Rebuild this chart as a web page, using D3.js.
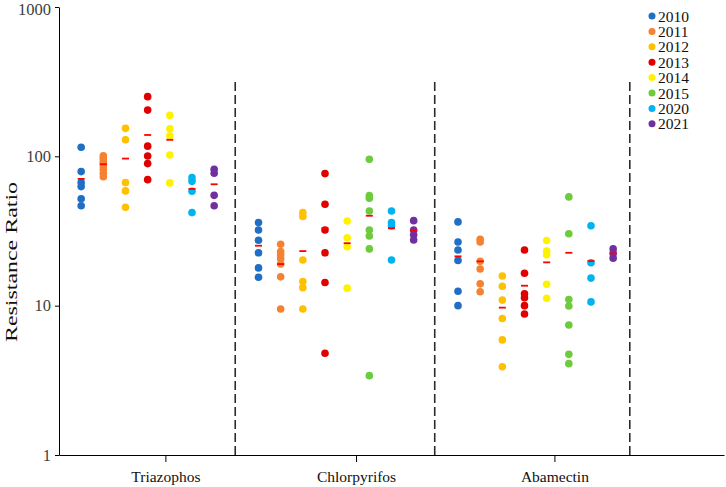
<!DOCTYPE html>
<html>
<head>
<meta charset="utf-8">
<script src="https://cdn.jsdelivr.net/npm/d3@7"></script>
<style>
  body { margin: 0; background: #fff; }
  svg { display: block; }
  .axis path, .axis line { stroke: #000; }
</style>
</head>
<body>
<div id="chart"></div>
<script>
// series (years) and their colours
const years = ["2010", "2011", "2012", "2013", "2014", "2015", "2020", "2021"];
const colors = ["#1f6fc6", "#f58232", "#ffc000", "#e00000", "#fff200", "#6dcb3e", "#00b4f0", "#7030a0"];

const categories = ["Triazophos", "Chlorpyrifos", "Abamectin"];

// resistance ratios per year (null = not tested)
const triazophos = [
    [115, 79, 66.7, 62.7, 52, 46.7],
    [101, 97, 93, 90, 86, 82, 77, 73],
    [154, 129, 66.7, 58.7, 45.6],
    [251, 204, 117, 100.6, 89.4, 69.8],
    [188, 153, 137, 102, 66.4],
    null,
    [72, 68, 58.4, 42],
    [81.9, 77, 54.8, 46.7]
];
const chlorpyrifos = [
    [36, 32.1, 27.4, 22.6, 17.9, 15.5],
    [25.8, 23, 21.8, 20.6, 19, 15.6, 9.5],
    [42, 39.5, 20.2, 14.5, 13.2, 9.5],
    [76.6, 47.8, 32.1, 22.6, 14.3, 4.8],
    [36.9, 28.5, 24.8, 13.1],
    [95.6, 54.6, 52.4, 43, 32.1, 29.3, 24, 3.4],
    [43, 36, 34.2, 20.2],
    [37.1, 32.1, 29.8, 27.5]
];
const abamectin = [
    [36.4, 26.7, 23.6, 20.1, 12.5, 10],
    [27.8, 26.7, 19.8, 17.6, 14, 12.4],
    [15.8, 13.5, 10.9, 8.2, 5.9, 3.9],
    [23.6, 16.5, 12, 11.3, 10, 8.8],
    [27.3, 23.2, 21.9, 13.9, 11.2],
    [53.5, 30.3, 11, 9.95, 7.43, 4.72, 4.09],
    [34.3, 19.4, 15.3, 10.6],
    [24, 22.4, 20.8]
];

// mean markers as drawn on the figure
const triazophosMean = [70.6, 88.5, 96.6, 139, 129, null, 60.5, 65];
const chlorpyrifosMean = [25.2, 19, 23.2, 33, 26.2, 40, 33, 31.8];
const abamectinMean = [21.4, 19.8, 9.7, 13.6, 19.5, 22.6, 19.9, 22.4];

// x positions (scatter x units) of first series in each group, dividers, group ticks
const groupStart = [1, 9, 18];
const dividers = [7.95, 16.95, 25.75];
const groupTicks = [4.8, 13.4, 22.35];

const yTicks = [1, 10, 100, 1000];

const width = 726, height = 487;
const serif = 'Liberation Serif, Times New Roman, serif';

const svg = d3.select('#chart').append('svg')
    .attr('width', width)
    .attr('height', height);

const x = d3.scaleLinear().domain([0, 30]).range([59, 724]);
const y = d3.scaleLog().domain([1, 1000]).range([455, 7]);

// dashed group separators
svg.append('g')
    .selectAll('line')
    .data(dividers)
    .join('line')
    .attr('x1', d => x(d)).attr('x2', d => x(d))
    .attr('y1', 82).attr('y2', y(1))
    .attr('stroke', '#2b2b2b')
    .attr('stroke-width', 1.6)
    .attr('stroke-dasharray', '9,4');

// y axis
const yAxis = svg.append('g')
    .attr('class', 'axis')
    .attr('transform', 'translate(' + x(0) + ',0)')
    .call(d3.axisLeft(y).tickValues(yTicks).tickFormat(d3.format('d')).tickSize(4).tickSizeOuter(0).tickPadding(4));
yAxis.selectAll('text')
    .attr('font-family', serif)
    .attr('font-size', 16.5)
    .attr('fill', '#404040')
    .attr('dy', d => d === 1000 ? '0.45em' : '0.32em');

// x axis
const xAxis = svg.append('g')
    .attr('class', 'axis')
    .attr('transform', 'translate(0,' + y(1) + ')')
    .call(d3.axisBottom(x).tickValues(groupTicks).tickFormat((d, i) => categories[i]).tickSize(7).tickSizeOuter(0).tickPadding(9));
xAxis.selectAll('text')
    .attr('font-family', serif)
    .attr('font-size', 15.5)
    .attr('fill', '#111');

// axis title (stretched along its length like the source figure)
svg.append('text')
    .attr('transform', 'translate(11,262) rotate(-90) scale(1.45,1)')
    .attr('text-anchor', 'middle')
    .attr('dominant-baseline', 'central')
    .attr('font-family', serif)
    .attr('font-size', 16.5)
    .attr('fill', '#111')
    .text('Resistance Ratio');

// flatten groups into points + means
const groups = [
    { values: triazophos, means: triazophosMean },
    { values: chlorpyrifos, means: chlorpyrifosMean },
    { values: abamectin, means: abamectinMean }
];

const points = [];
const means = [];
groups.forEach((g, gi) => {
    let slot = 0;
    g.values.forEach((vals, si) => {
        if (!vals) return;
        const pos = groupStart[gi] + slot;
        vals.forEach(v => points.push({ pos: pos, v: v, s: si }));
        if (g.means[si] != null) means.push({ pos: pos, v: g.means[si] });
        slot++;
    });
});

svg.append('g')
    .selectAll('circle')
    .data(points)
    .join('circle')
    .attr('cx', d => x(d.pos))
    .attr('cy', d => y(d.v))
    .attr('r', 3.8)
    .attr('fill', d => colors[d.s]);

svg.append('g')
    .selectAll('line')
    .data(means)
    .join('line')
    .attr('x1', d => x(d.pos) - 3.5)
    .attr('x2', d => x(d.pos) + 3.5)
    .attr('y1', d => y(d.v))
    .attr('y2', d => y(d.v))
    .attr('stroke', '#ff0000')
    .attr('stroke-width', 1.8);

// legend
const legend = svg.append('g')
    .attr('transform', 'translate(652,16)');
const rows = legend.selectAll('g')
    .data(years)
    .join('g')
    .attr('transform', (d, i) => 'translate(0,' + (i * 15.4) + ')');
rows.append('circle')
    .attr('r', 3.5)
    .attr('fill', (d, i) => colors[i]);
rows.append('text')
    .attr('x', 6)
    .attr('dominant-baseline', 'central')
    .attr('font-family', serif)
    .attr('font-size', 15.5)
    .attr('fill', '#111')
    .text(d => d);
</script>
</body>
</html>
